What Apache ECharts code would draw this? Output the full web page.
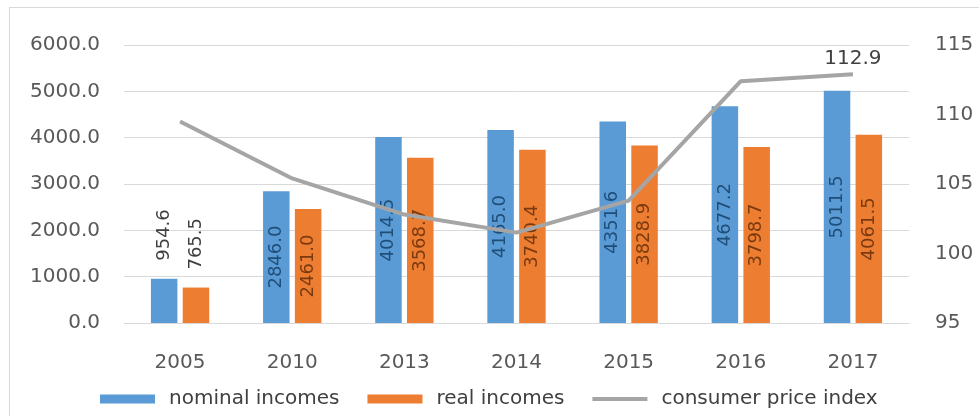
<!DOCTYPE html>
<html>
<head>
<meta charset="utf-8">
<script src="https://cdn.jsdelivr.net/npm/echarts@6/dist/echarts.min.js"></script>
<style>
  html, body { margin: 0; padding: 0; background: #fff; }
  #frame { position: absolute; left: 9px; top: 7px; width: 1000px; height: 420px; border: 1px solid #d9d9d9; }
  #main { position: absolute; left: 0; top: 0; width: 979px; height: 416px; }
</style>
</head>
<body>
<div id="frame"></div>
<div id="main"></div>
<script>
// data
var years = ['2005', '2010', '2013', '2014', '2015', '2016', '2017'];
var nominalIncomes = [954.6, 2846.0, 4014.5, 4165.0, 4351.6, 4677.2, 5011.5];
var realIncomes = [765.5, 2461.0, 3568.7, 3740.4, 3828.9, 3798.7, 4061.5];
var cpi = [109.5, 105.4, 102.8, 101.5, 103.8, 112.4, 112.9];

var grey = '#595959';
var font = 'DejaVu Sans';

// first group labels sit above the bars, others inside
function barData(arr) {
	return arr.map(function(v, i) {
		if (i == 0) {
			return {
				value: v,
				label: { position: 'top', distance: 18, align: 'left', verticalAlign: 'middle', color: '#404040' }
			};
		}
		return v;
	});
}

var cpiData = cpi.map(function(v, i) {
	if (i == cpi.length - 1) {
		return { value: v, label: { show: true, position: 'top', distance: 5, fontSize: 20, fontFamily: font, color: '#404040' } };
	}
	return v;
});

var myChart = echarts.init(document.getElementById('main'));
var option = {
	animation: false,
	textStyle: { fontFamily: font },
	grid: { left: 124, right: 70, top: 45, bottom: 93 },
	legend: {
		left: 95,
		top: 384,
		itemWidth: 55,
		itemHeight: 9,
		itemGap: 28,
		textStyle: { fontSize: 20, fontFamily: font, color: '#404040', padding: [0, 0, 0, 9] },
		data: [
			{ name: 'nominal incomes', icon: 'rect' },
			{ name: 'real incomes', icon: 'rect' },
			{ name: 'consumer price index', icon: 'path://M0,0L55,0L55,4L0,4Z' }
		]
	},
	xAxis: {
		type: 'category',
		data: years,
		axisTick: { show: false },
		axisLine: { lineStyle: { color: '#d9d9d9' } },
		axisLabel: { fontSize: 20, color: grey, margin: 30 }
	},
	yAxis: [{
		type: 'value',
		min: 0,
		max: 6000,
		interval: 1000,
		axisLabel: { fontSize: 20, color: grey, margin: 24, formatter: function(v) { return v.toFixed(1); } },
		splitLine: { lineStyle: { color: '#d9d9d9' } },
		axisLine: { show: false },
		axisTick: { show: false }
	}, {
		type: 'value',
		min: 95,
		max: 115,
		interval: 5,
		axisLabel: { fontSize: 20, color: grey, margin: 26 },
		splitLine: { show: false },
		axisLine: { show: false },
		axisTick: { show: false }
	}],
	series: [{
		name: 'nominal incomes',
		type: 'bar',
		data: barData(nominalIncomes),
		barGap: '20%',
		barCategoryGap: '48%',
		itemStyle: { color: '#5b9bd5' },
		label: {
			show: true,
			position: 'inside',
			rotate: 90,
			fontSize: 18,
			color: '#1f4e79',
			formatter: function(p) { return p.value.toFixed(1); }
		}
	}, {
		name: 'real incomes',
		type: 'bar',
		data: barData(realIncomes),
		itemStyle: { color: '#ed7d31' },
		label: {
			show: true,
			position: 'inside',
			rotate: 90,
			fontSize: 18,
			color: '#7a3a10',
			formatter: function(p) { return p.value.toFixed(1); }
		}
	}, {
		name: 'consumer price index',
		type: 'line',
		yAxisIndex: 1,
		data: cpiData,
		symbol: 'circle',
		symbolSize: 0.1,
		lineStyle: { color: '#a5a5a5', width: 4 },
		itemStyle: { color: '#a5a5a5' },
		z: 5
	}]
};
myChart.setOption(option);
</script>
</body>
</html>
